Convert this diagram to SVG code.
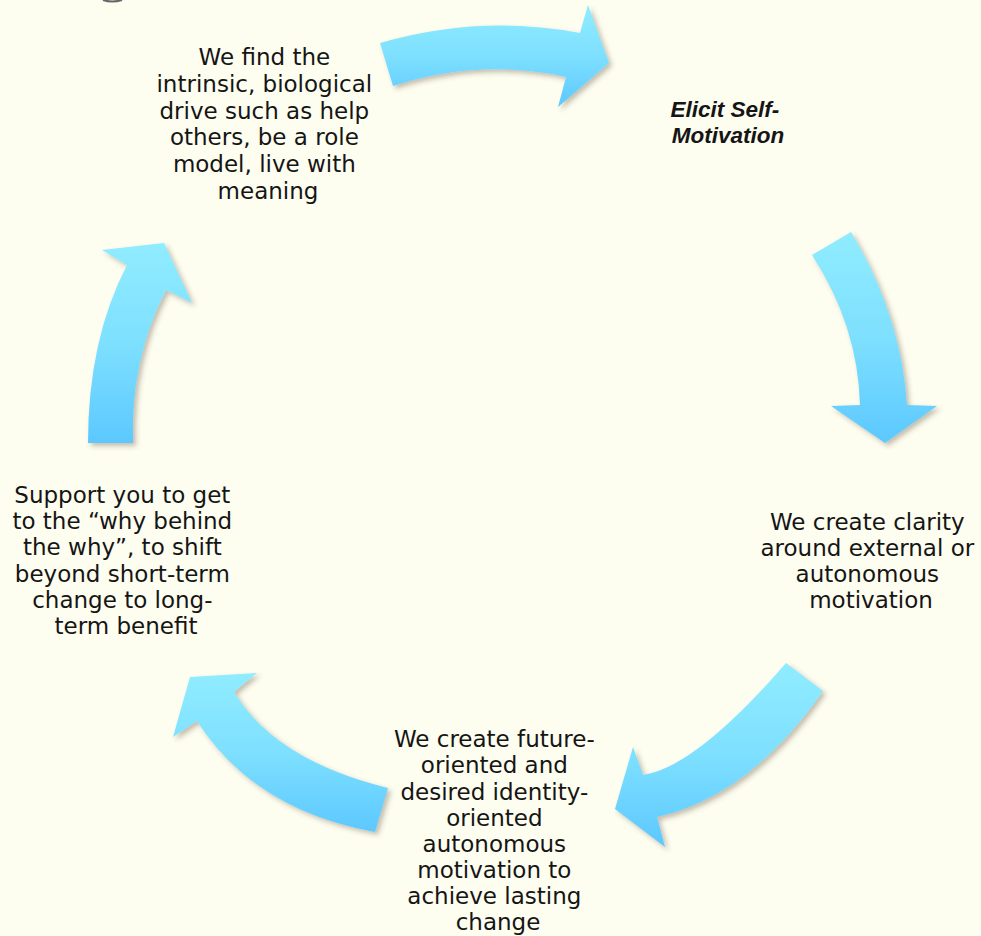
<svg xmlns="http://www.w3.org/2000/svg" width="981" height="936" viewBox="0 0 981 936">
  <defs>
    <linearGradient id="arrowFill" x1="0" y1="0" x2="0" y2="1">
      <stop offset="0" stop-color="#90ECFF"/>
      <stop offset="0.5" stop-color="#7EE0FF"/>
      <stop offset="1" stop-color="#5CC8FF"/>
    </linearGradient>
    <filter id="softShadow" x="-20%" y="-20%" width="140%" height="140%">
      <feDropShadow dx="3" dy="3" stdDeviation="2.5" flood-color="#5a4a30" flood-opacity="0.35"/>
    </filter>
    <style>
      .arrow { fill: url(#arrowFill); filter: url(#softShadow); }
      .label { font-family: "DejaVu Sans", "Liberation Sans", sans-serif; font-size: 23px; fill: #151515; text-anchor: middle; }
      .title { font-family: "Liberation Sans", Arial, sans-serif; font-size: 22.5px; font-weight: bold; font-style: italic; fill: #151515; text-anchor: middle; }
    </style>
  </defs>

  <!-- page background -->
  <rect x="0" y="0" width="981" height="936" fill="#FDFDF0"/>
  <!-- clipped glyph fragment at the top edge -->
  <path d="M 103,0 Q 112,3 122,0" fill="none" stroke="#666" stroke-width="2"/>

  <!-- cycle connectors -->
  <g id="connectors">
    <path class="arrow" d="M 380,43 Q 480,14 580,33 L 588,5 L 609,63 L 558,107 L 566,77 Q 480,58 393,86 Z"/>
    <path class="arrow" d="M 812,255 L 851,232 Q 901,315 907,405 L 937,406 L 885,443 L 831,406 L 860,405 Q 858,326 812,255 Z"/>
    <path class="arrow" d="M 786,663 L 823,691 Q 750,796 657,817 L 665,847 L 615,809 L 633,747 L 643,775 Q 696,767 786,663 Z"/>
    <path class="arrow" d="M 388,788 Q 275,760 234,692 L 257,673 L 190,677 L 173,737 L 197,721 Q 254,810 375,832 Z"/>
    <path class="arrow" d="M 88,443 Q 88,340 127,265 L 102,250 L 164,243 L 192,303 L 166,290 Q 130,360 133,443 Z"/>
  </g>

  <g id="node-drive">
    <text class="label">
      <tspan x="268" y="65">We find the</tspan>
      <tspan x="268" y="92">intrinsic, biological</tspan>
      <tspan x="268" y="119">drive such as help</tspan>
      <tspan x="268" y="145">others, be a role</tspan>
      <tspan x="268" y="172">model, live with</tspan>
      <tspan x="268" y="199">meaning</tspan>
    </text>
  </g>

  <g id="node-elicit">
    <text class="title">
      <tspan x="728" y="117">Elicit Self-</tspan>
      <tspan x="728" y="143">Motivation</tspan>
    </text>
  </g>

  <g id="node-clarity">
    <text class="label">
      <tspan x="871" y="530">We create clarity</tspan>
      <tspan x="871" y="556">around external or</tspan>
      <tspan x="871" y="582">autonomous</tspan>
      <tspan x="871" y="608">motivation</tspan>
    </text>
  </g>

  <g id="node-future">
    <text class="label">
      <tspan x="498" y="747">We create future-</tspan>
      <tspan x="498" y="773">oriented and</tspan>
      <tspan x="498" y="800">desired identity-</tspan>
      <tspan x="498" y="826">oriented</tspan>
      <tspan x="498" y="852">autonomous</tspan>
      <tspan x="498" y="878">motivation to</tspan>
      <tspan x="498" y="904">achieve lasting</tspan>
      <tspan x="498" y="930">change</tspan>
    </text>
  </g>

  <g id="node-why">
    <text class="label">
      <tspan x="126" y="503">Support you to get</tspan>
      <tspan x="126" y="529">to the “why behind</tspan>
      <tspan x="126" y="555">the why”, to shift</tspan>
      <tspan x="126" y="582">beyond short-term</tspan>
      <tspan x="126" y="608">change to long-</tspan>
      <tspan x="126" y="634">term benefit</tspan>
    </text>
  </g>
</svg>
